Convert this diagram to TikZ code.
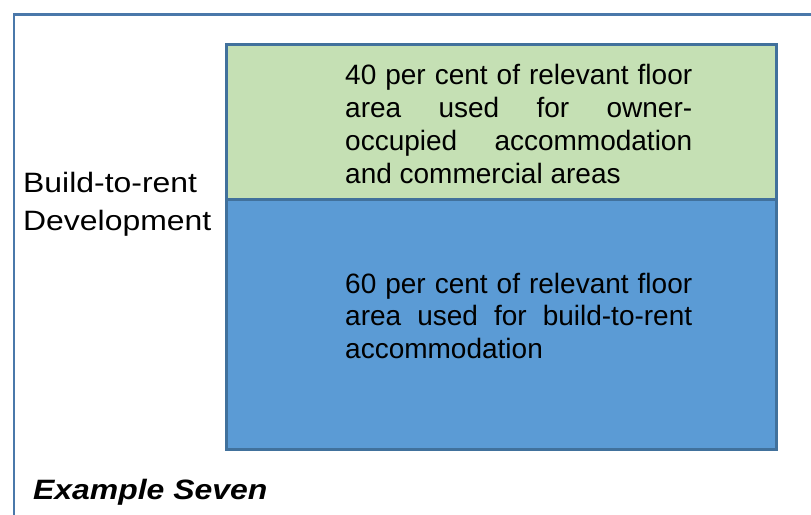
\documentclass[tikz,border=0pt]{standalone}
\usepackage{fontspec}
\setmainfont{Liberation Sans}
\usepackage{graphicx}
\definecolor{frameblue}{HTML}{4A78AA}
\definecolor{boxborder}{HTML}{41719C}
\definecolor{greenfill}{HTML}{C5E0B4}
\definecolor{bluefill}{HTML}{5B9BD5}
\begin{document}
\begin{tikzpicture}[x=1pt,y=-1pt,
  part/.style={draw=boxborder, line width=3pt, anchor=north west, inner sep=0pt, outer sep=0pt, minimum width=550.5pt},
  parttext/.style={anchor=base west, inner sep=0pt, text width=347pt, align=justify},
  label/.style={anchor=base west, inner sep=0pt, font=\fontsize{28}{38}\selectfont}]
\useasboundingbox (0,0) rectangle (811,514);
\fill[white] (0,0) rectangle (811,514);
\draw[frameblue, line width=2.7pt] (14,14.5) rectangle (840,540);
\node[part, fill=greenfill, minimum height=155pt] (green) at (226,44) {};
\node[part, fill=bluefill, minimum height=250.5pt] (blue) at (226,199) {};
\node[parttext, font=\fontsize{28}{33}\selectfont] (gtext) at (345,84)
  {40 per cent of relevant floor\linebreak area used for owner-\linebreak occupied accommodation\linebreak and commercial areas};
\node[parttext, font=\fontsize{28}{32.5}\selectfont] (btext) at (345,293)
  {60 per cent of relevant floor\linebreak area used for build-to-rent\linebreak accommodation};
\node[label] (l1) at (23,192) {\scalebox{1.14}[1]{Build-to-rent}};
\node[label] (l2) at (23,230) {\scalebox{1.14}[1]{Development}};
\node[label, font=\fontsize{28}{38}\selectfont\bfseries\itshape] (ex) at (33,499) {\scalebox{1.14}[1]{Example Seven}};
\end{tikzpicture}
\end{document}
